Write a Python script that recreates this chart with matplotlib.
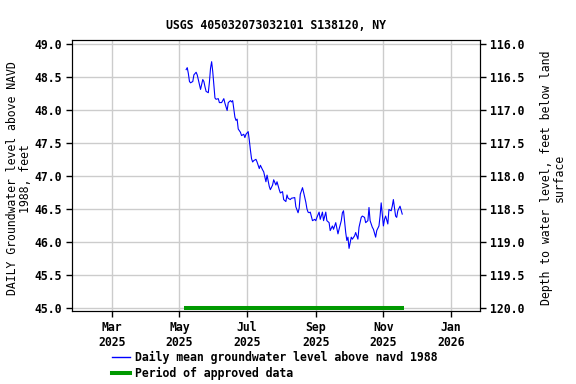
import matplotlib
matplotlib.use("Agg")
import matplotlib.pyplot as plt
from matplotlib.lines import Line2D
import pandas as pd

# daily mean groundwater level above NAVD 1988 (ft)
dates = ["2025-05-07", "2025-05-08", "2025-05-09", "2025-05-10", "2025-05-11", "2025-05-13",
         "2025-05-14", "2025-05-16", "2025-05-17", "2025-05-19", "2025-05-20", "2025-05-22",
         "2025-05-23", "2025-05-24", "2025-05-25", "2025-05-27", "2025-05-28", "2025-05-29",
         "2025-05-30", "2025-05-31", "2025-06-01", "2025-06-02", "2025-06-03", "2025-06-05",
         "2025-06-06", "2025-06-08", "2025-06-10", "2025-06-11", "2025-06-13", "2025-06-14",
         "2025-06-16", "2025-06-17", "2025-06-18", "2025-06-20", "2025-06-21", "2025-06-22",
         "2025-06-23", "2025-06-25", "2025-06-26", "2025-06-28", "2025-06-29", "2025-06-30",
         "2025-07-02", "2025-07-03", "2025-07-04", "2025-07-05", "2025-07-06", "2025-07-07",
         "2025-07-09", "2025-07-10", "2025-07-12", "2025-07-13", "2025-07-15", "2025-07-16",
         "2025-07-18", "2025-07-19", "2025-07-21", "2025-07-22", "2025-07-24", "2025-07-25",
         "2025-07-27", "2025-07-28", "2025-07-30", "2025-07-31", "2025-08-02", "2025-08-03",
         "2025-08-05", "2025-08-06", "2025-08-07", "2025-08-09", "2025-08-10", "2025-08-13",
         "2025-08-14", "2025-08-16", "2025-08-17", "2025-08-18", "2025-08-20", "2025-08-21",
         "2025-08-23", "2025-08-24", "2025-08-25", "2025-08-26", "2025-08-27", "2025-08-29",
         "2025-08-31", "2025-09-01", "2025-09-02", "2025-09-04", "2025-09-05", "2025-09-07",
         "2025-09-08", "2025-09-10", "2025-09-11", "2025-09-13", "2025-09-14", "2025-09-16",
         "2025-09-17", "2025-09-19", "2025-09-21", "2025-09-22", "2025-09-24", "2025-09-25",
         "2025-09-26", "2025-09-28", "2025-09-29", "2025-09-30", "2025-10-01", "2025-10-03",
         "2025-10-04", "2025-10-06", "2025-10-07", "2025-10-09", "2025-10-10", "2025-10-12",
         "2025-10-13", "2025-10-15", "2025-10-16", "2025-10-18", "2025-10-19", "2025-10-20",
         "2025-10-22", "2025-10-23", "2025-10-25", "2025-10-26", "2025-10-28", "2025-10-29",
         "2025-10-30", "2025-11-01", "2025-11-02", "2025-11-03", "2025-11-05", "2025-11-06",
         "2025-11-08", "2025-11-09", "2025-11-10", "2025-11-12", "2025-11-13", "2025-11-14",
         "2025-11-16", "2025-11-18"]
levels = [48.61, 48.64, 48.55, 48.43, 48.41, 48.43,
          48.53, 48.57, 48.53, 48.38, 48.31, 48.46,
          48.43, 48.35, 48.28, 48.26, 48.42, 48.63,
          48.73, 48.58, 48.38, 48.18, 48.16, 48.17,
          48.11, 48.11, 48.17, 48.10, 47.99, 48.11,
          48.14, 48.12, 48.14, 47.89, 47.84, 47.86,
          47.71, 47.66, 47.61, 47.63, 47.58, 47.63,
          47.67, 47.54, 47.39, 47.26, 47.21, 47.23,
          47.25, 47.21, 47.11, 47.16, 47.09, 47.06,
          46.91, 47.01, 46.84, 46.79, 46.86, 46.94,
          46.86, 46.91, 46.79, 46.74, 46.76, 46.64,
          46.61, 46.71, 46.66, 46.64, 46.66, 46.67,
          46.53, 46.44, 46.51, 46.72, 46.82, 46.75,
          46.60, 46.50, 46.45, 46.44, 46.45, 46.32,
          46.34, 46.32, 46.37, 46.45, 46.34, 46.45,
          46.32, 46.45, 46.32, 46.29, 46.17, 46.24,
          46.19, 46.29, 46.12, 46.19, 46.32, 46.44,
          46.47, 46.14, 46.02, 46.07, 45.90, 46.07,
          46.04, 46.09, 46.14, 46.04, 46.22, 46.37,
          46.39, 46.37, 46.29, 46.32, 46.52, 46.32,
          46.22, 46.19, 46.07, 46.17, 46.24, 46.39,
          46.59, 46.24, 46.34, 46.39, 46.27, 46.49,
          46.47, 46.54, 46.64, 46.39, 46.37, 46.47,
          46.54, 46.42]

approved_start = "2025-05-05"
approved_end = "2025-11-20"

xticks = ["2025-03-01", "2025-05-01", "2025-07-01", "2025-09-01", "2025-11-01", "2026-01-01"]
xticklabels = ["Mar\n2025", "May\n2025", "Jul\n2025", "Sep\n2025", "Nov\n2025", "Jan\n2026"]
yticks = [45.0, 45.5, 46.0, 46.5, 47.0, 47.5, 48.0, 48.5, 49.0]

datum_offset = 165.0  # depth below land surface = offset - level

plt.rcParams['font.family'] = ['DejaVu Sans Mono']
plt.rcParams['font.weight'] = 'bold'
plt.rcParams['font.size'] = 8.3

fig = plt.figure(figsize=(5.76, 3.84), dpi=100)
ax = fig.add_axes([0.125, 0.19, 0.708, 0.706])

t = pd.to_datetime(dates)
ax.plot(t, levels, color='#0000ff', lw=0.8, zorder=3)
ax.plot(pd.to_datetime([approved_start, approved_end]), [45.0, 45.0],
        color='#009900', lw=2.9, solid_capstyle='butt', zorder=4)

ax.set_xlim(pd.Timestamp("2025-01-24"), pd.Timestamp("2026-01-27"))
ylo, yhi = 44.95, 49.06
ax.set_ylim(ylo, yhi)
ax.set_yticks(yticks)
ax.set_yticklabels(["%.1f" % v for v in yticks])
ax.set_xticks(pd.to_datetime(xticks))
ax.set_xticklabels(xticklabels)
ax.grid(True, color='#cccccc', lw=1)
ax.set_axisbelow(True)
ax.tick_params(direction='out', length=4, width=1, color='#000000')

ax2 = ax.twinx()
ax2.set_ylim(datum_offset - ylo, datum_offset - yhi)
ryt = [datum_offset - v for v in yticks]
ax2.set_yticks(ryt)
ax2.set_yticklabels(["%.1f" % v for v in ryt])
ax2.tick_params(direction='out', length=4, width=1)

ax.set_title("USGS 405032073032101 S138120, NY", fontsize=8.3, fontweight='bold', pad=8)
ax.set_ylabel("DAILY Groundwater level above NAVD\n1988, feet", linespacing=1.0)
ax.yaxis.set_label_coords(-0.098, 0.49)
ax2.set_ylabel("Depth to water level, feet below land\nsurface", linespacing=1.0)
ax2.yaxis.set_label_coords(1.147, 0.49)

handles = [Line2D([], [], color='#0000ff', lw=1),
           Line2D([], [], color='#009900', lw=2.9)]
fig.legend(handles, ["Daily mean groundwater level above navd 1988", "Period of approved data"],
           loc='upper left', bbox_to_anchor=(0.194, 0.086), frameon=False,
           handlelength=1.56, handletextpad=0.45, labelspacing=0.25, borderaxespad=0,
           borderpad=0)

fig.savefig("out.png", dpi=100)
